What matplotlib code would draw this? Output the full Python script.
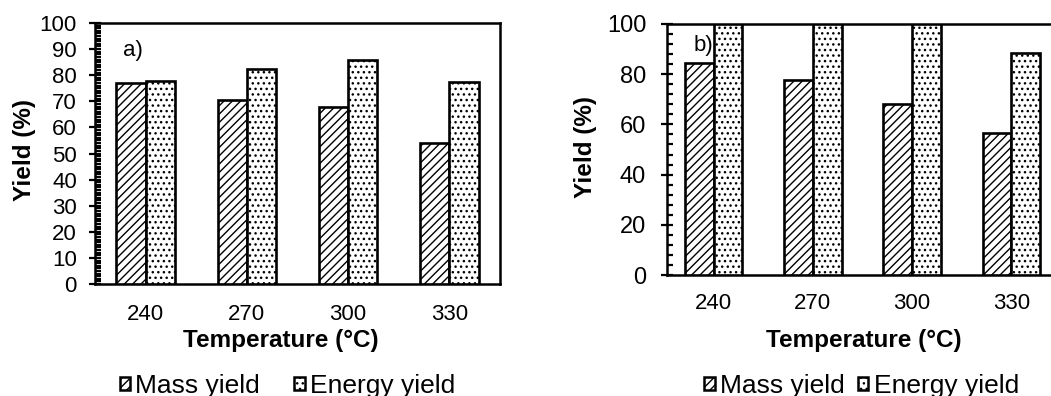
import numpy as np
import matplotlib
matplotlib.use("Agg")
import matplotlib.pyplot as plt
from matplotlib.patches import Patch
from matplotlib.ticker import MultipleLocator

plt.rcParams['font.family'] = ['Liberation Sans', 'DejaVu Sans']
plt.rcParams['hatch.linewidth'] = 1.0

temps = ['240', '270', '300', '330']
mass_a = [77.2, 70.5, 68.0, 54.2]
energy_a = [77.8, 82.3, 85.8, 77.3]
mass_b = [84.6, 77.6, 68.1, 56.4]
energy_b = [100.0, 100.0, 100.0, 88.5]

W, H = 1051, 396
fig = plt.figure(figsize=(W / 100, H / 100), dpi=100)


def panel(rect, mass, energy, step, minor, xlim, tag, tagpos, ysize, ypad, xpad):
    ax = fig.add_axes(rect)
    x = np.arange(len(temps))
    w = 0.29
    ax.bar(x - w / 2, mass, w, color='white', edgecolor='black', hatch='////',
           linewidth=1.9, zorder=3)
    ax.bar(x + w / 2, energy, w, color='white', edgecolor='black', hatch='...',
           linewidth=1.9, zorder=3)
    ax.set_xlim(*xlim)
    ax.set_ylim(0, 100)
    ax.set_xticks(x)
    ax.set_xticklabels(temps)
    ax.yaxis.set_major_locator(MultipleLocator(step))
    ax.yaxis.set_minor_locator(MultipleLocator(minor))
    ax.tick_params(axis='x', length=0, labelsize=16, pad=xpad)
    ax.tick_params(axis='y', which='major', direction='inout', length=8, width=1.6,
                   labelsize=ysize, pad=ypad)
    ax.tick_params(axis='y', which='minor', direction='in', length=4, width=1.6)
    for s in ax.spines.values():
        s.set_linewidth(1.8)
    ax.text(tagpos[0], tagpos[1], tag, fontsize=16, ha='left', va='center', zorder=1)
    ax.set_ylabel('Yield (%)', fontsize=17.5, fontweight='bold', va='center')
    ax.set_xlabel('Temperature (°C)', fontsize=17.5, fontweight='bold', va='center')
    return ax


ax1 = panel([95 / W, 1 - 284 / H, 405 / W, 261 / H], mass_a, energy_a, 10, 1,
            (-0.5, 3.5), 'a)', (-0.22, 89.5), 16, 9, 14.5)
ax1.yaxis.set_label_coords(-0.175, 0.513)
ax1.xaxis.set_label_coords(0.458, (284 - 341) / 261)

ax2 = panel([667 / W, 1 - 275 / H, 394 / W, 251 / H], mass_b, energy_b, 20, 4,
            (-0.47, 3.5), 'b)', (-0.2, 91.5), 17, 11, 13)
ax2.yaxis.set_label_coords(-0.208, 0.508)
ax2.xaxis.set_label_coords(0.499, (275 - 340) / 251)

handles = [Patch(facecolor='white', edgecolor='black', hatch='////', linewidth=1.8),
           Patch(facecolor='white', edgecolor='black', hatch='...', linewidth=1.8)]
labels = ['Mass yield', 'Energy yield']
fig.legend(handles, labels, loc='center', bbox_to_anchor=(287.5 / W, 1 - 386 / H), ncol=2,
           frameon=False, fontsize=19, handlelength=0.4, handleheight=0.4,
           handletextpad=0.2, columnspacing=1.3, borderpad=0)
fig.legend(handles, labels, loc='center', bbox_to_anchor=(861.5 / W, 1 - 386 / H), ncol=2,
           frameon=False, fontsize=19, handlelength=0.4, handleheight=0.4,
           handletextpad=0.2, columnspacing=0.5, borderpad=0)

fig.savefig('out.png', dpi=100)
